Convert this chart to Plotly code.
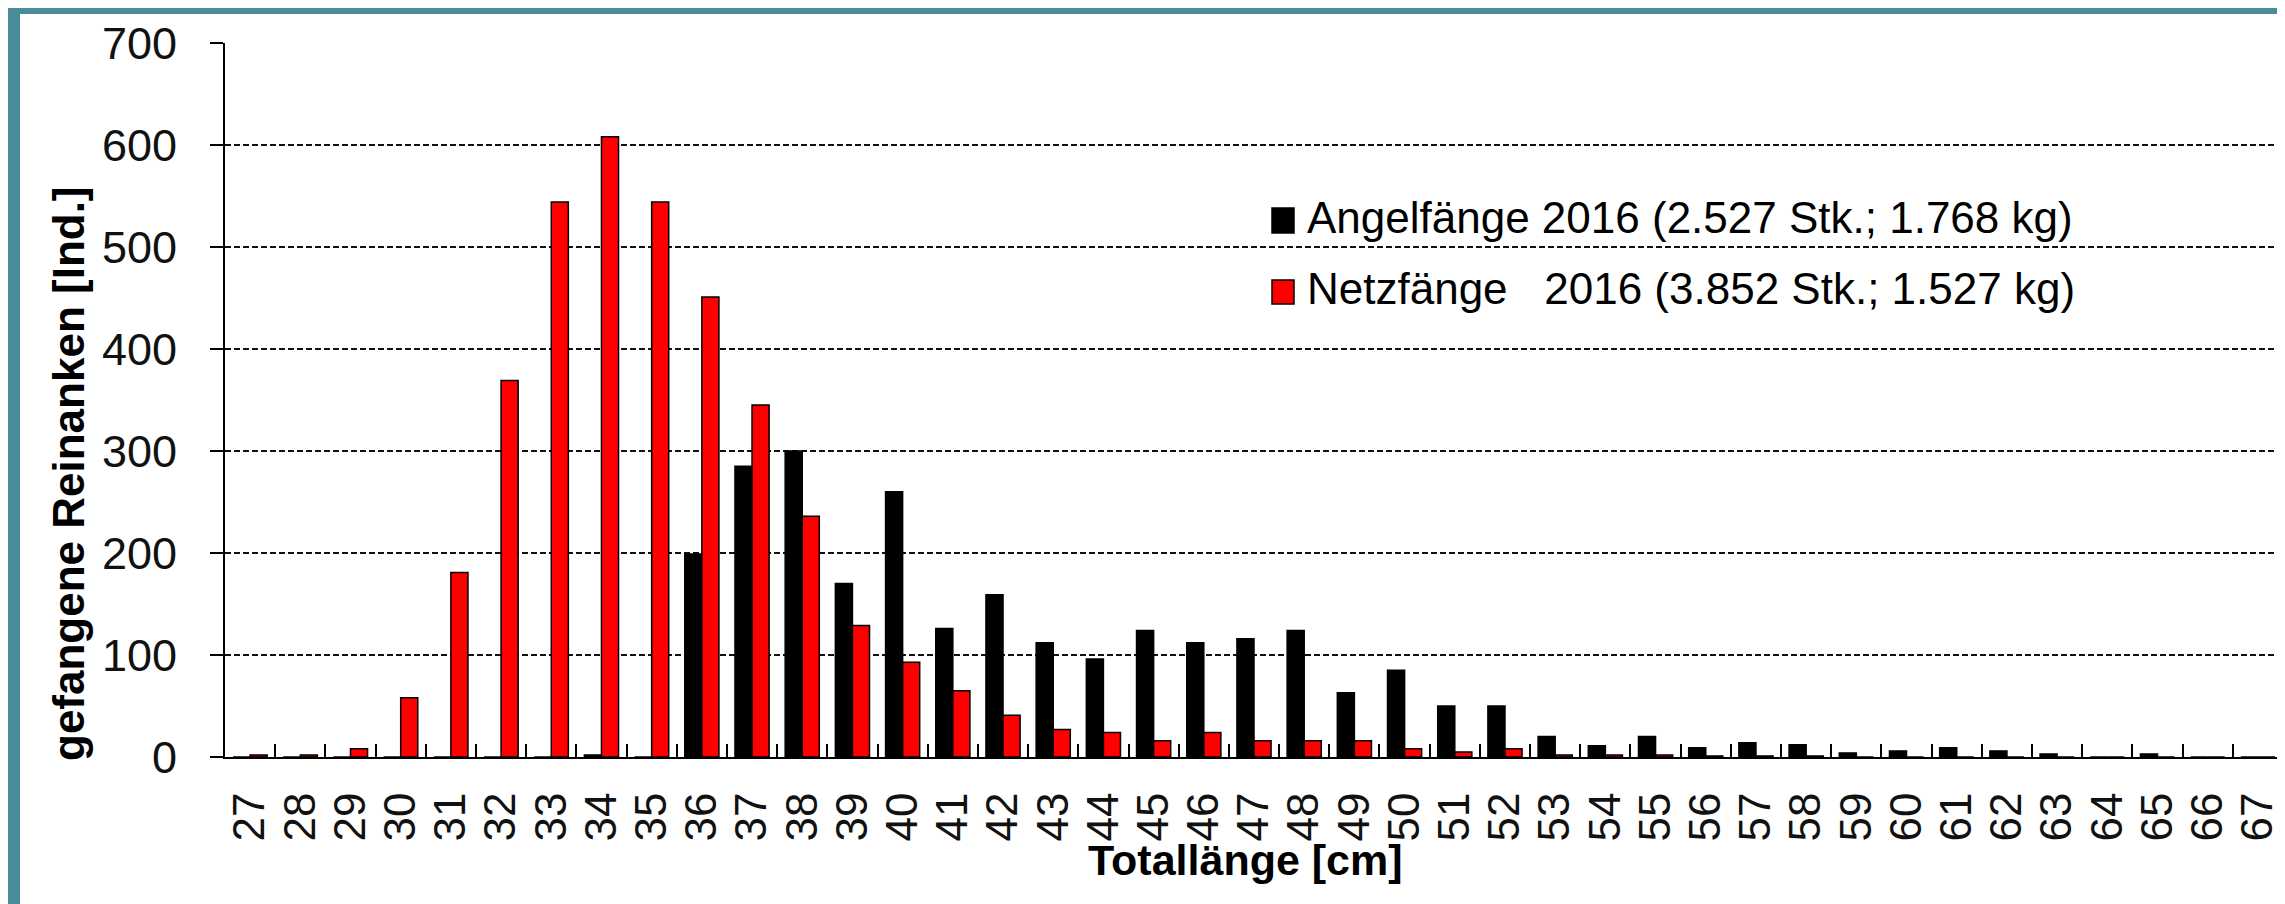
import plotly.graph_objects as go

# ---- data ----
lengths_cm = [str(v) for v in range(27, 68)]
angel_2016 = [0, 0, 0, 0, 0, 0, 0, 2, 0, 199, 285, 300, 170, 260, 126, 159, 112, 96,
              124, 112, 116, 124, 63, 85, 50, 50, 20, 11, 20, 9, 14, 12, 4, 6, 9, 6,
              3, 0, 3, 0, 0]
netz_2016 = [2, 2, 8, 58, 181, 369, 544, 608, 544, 451, 345, 236, 129, 93, 65, 41, 27,
             24, 16, 24, 16, 16, 16, 8, 5, 8, 2, 2, 2, 1, 1, 1, 0, 0, 0, 0, 0, 0, 0, 0, 0]
y_ticks = [0, 100, 200, 300, 400, 500, 600, 700]
legend_labels = ["Angelfänge 2016 (2.527 Stk.; 1.768 kg)",
                 "Netzfänge\u00a0\u00a0\u00a02016 (3.852 Stk.; 1.527 kg)"]
series_colors = ["#000000", "#FF0000"]

W, H = 2285, 904
L, R, T, B = 217, 2285 - 2275, 35, 904 - 749
PW, PH = W - L - R, H - T - B

def px(x):
    return (x - L) / PW

def py(y):
    return (H - B - y) / PH

FONT = "Arial, 'Liberation Sans', sans-serif"

fig = go.Figure()
for name, vals, col in zip(legend_labels, [angel_2016, netz_2016], series_colors):
    fig.add_trace(go.Bar(
        x=lengths_cm, y=vals, name=name,
        marker=dict(color=col, line=dict(color="#000000", width=1.5)),
        showlegend=False,
    ))

shapes = [
    # white chart panel on teal background
    dict(type="rect", xref="paper", yref="paper", layer="below",
         x0=px(12), x1=px(2276), y0=py(906), y1=py(6),
         fillcolor="white", line=dict(width=0)),
]
annotations = []
# manual legend
rows = [(200, 225, 209), (272, 296, 280)]
for (y0, y1, yc), lab, col in zip(rows, legend_labels, series_colors):
    shapes.append(dict(type="rect", xref="paper", yref="paper", layer="above",
                       x0=px(1264), x1=px(1286), y0=py(y1), y1=py(y0),
                       fillcolor=col, line=dict(color="black", width=1.5)))
    annotations.append(dict(xref="paper", yref="paper", x=px(1297), y=py(yc),
                            xanchor="left", yanchor="middle", showarrow=False,
                            text=lab, font=dict(family=FONT, size=44, color="black")))

# axis titles
annotations.append(dict(xref="paper", yref="paper", x=px(60), y=py(466),
                        xanchor="center", yanchor="middle", showarrow=False,
                        textangle=-90, text="<b>gefangene Reinanken [Ind.]</b>",
                        font=dict(family=FONT, size=44, color="black")))
annotations.append(dict(xref="paper", yref="paper", x=px(1237), y=py(852),
                        xanchor="center", yanchor="middle", showarrow=False,
                        text="<b>Totallänge [cm]</b>",
                        font=dict(family=FONT, size=43, color="black")))

fig.update_layout(
    width=W, height=H, autosize=False,
    margin=dict(l=L, r=R, t=T, b=B, pad=0),
    paper_bgcolor="#4a8c99",
    plot_bgcolor="rgba(0,0,0,0)",
    barmode="group", bargap=0.32, bargroupgap=0,
    shapes=shapes, annotations=annotations,
    font=dict(family=FONT, color="black"),
)
fig.update_xaxes(
    type="category", categoryorder="array", categoryarray=lengths_cm,
    tickmode="array", tickvals=lengths_cm, ticktext=lengths_cm,
    tickangle=-90, tickfont=dict(family=FONT, size=44, color="#111111"),
    ticks="inside", tickson="boundaries", ticklen=13, tickwidth=2, tickcolor="black",
    ticklabelstandoff=16,
    showline=True, linecolor="black", linewidth=2,
    showgrid=False, zeroline=False,
)
fig.update_yaxes(
    range=[0, 700], tickvals=y_ticks,
    tickfont=dict(family=FONT, size=45, color="#111111"),
    ticks="outside", ticklen=13, tickwidth=2, tickcolor="black",
    ticklabelstandoff=24,
    showline=True, linecolor="black", linewidth=2,
    showgrid=True, gridcolor="#111111", gridwidth=2, griddash="6px,3px",
    zeroline=False,
)

fig.write_html("out.html")
